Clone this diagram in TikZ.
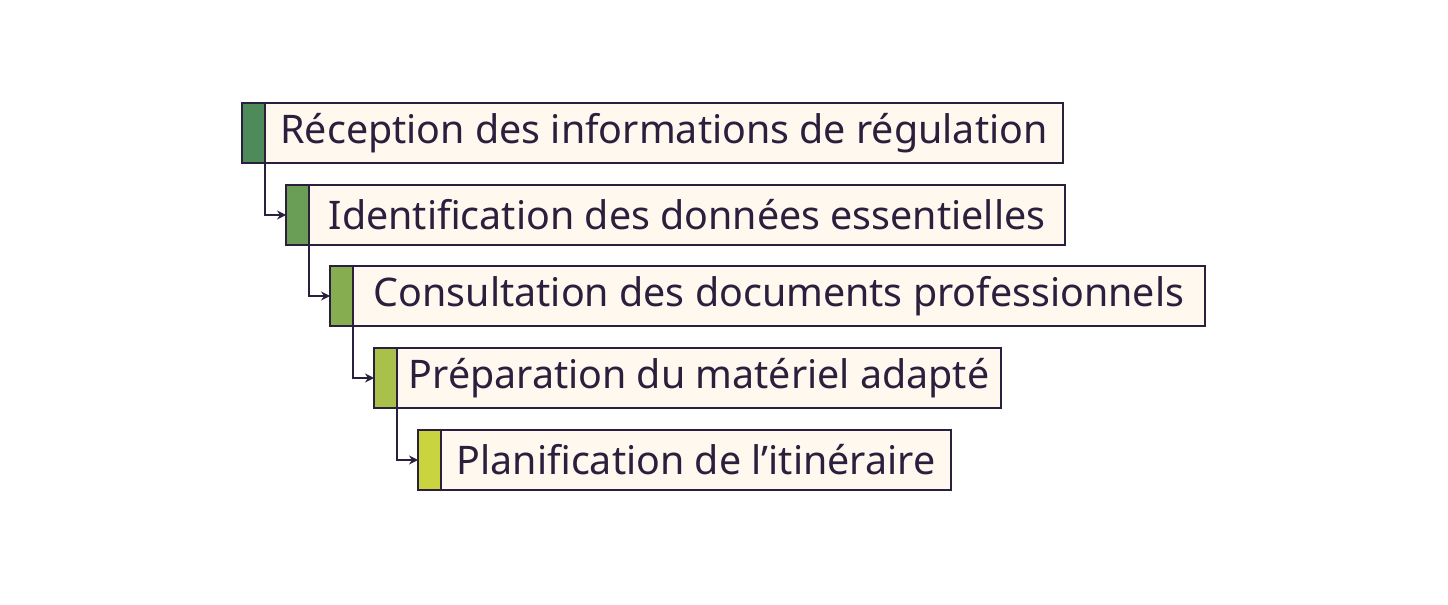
\documentclass[tikz,border=0pt]{standalone}
\usepackage{fontspec}
\setmainfont{Noto Sans}
\usepackage{tikz}
\usetikzlibrary{arrows.meta}

\definecolor{inkdark}{HTML}{2A1F3D}
\definecolor{paper}{HTML}{FFF8EE}
\definecolor{greenA}{HTML}{4F8A5B}
\definecolor{greenB}{HTML}{6A9D56}
\definecolor{greenC}{HTML}{86AE51}
\definecolor{greenD}{HTML}{A9C14A}
\definecolor{greenE}{HTML}{CAD43F}

\tikzset{
  stepbar/.style={draw=inkdark,line width=1pt,anchor=north west,outer sep=0pt,
    minimum width=11.5pt,minimum height=30pt,inner sep=0pt},
  stepbox/.style={draw=inkdark,line width=1pt,fill=paper,anchor=north west,outer sep=0pt,
    minimum height=30pt,inner sep=0pt,text=inkdark,font=\fontsize{19.7}{22}\selectfont},
  link/.style={draw=inkdark,line width=0.75pt,-{Stealth[length=4.5pt,width=4.5pt]}}
}

\begin{document}
\begin{tikzpicture}[x=0.5pt,y=-0.5pt]
  \useasboundingbox (0,0) rectangle (1448,605);
  \node[stepbar,fill=greenA] (b1) at (242,103) {};
  \node[stepbox,minimum width=399pt] (s1) at (b1.north east) {Réception des informations de régulation};
  \node[stepbar,fill=greenB] (b2) at (286,185) {};
  \node[stepbox,minimum width=378pt] (s2) at (b2.north east) {Identification des données essentielles};
  \node[stepbar,fill=greenC] (b3) at (330,266) {};
  \node[stepbox,minimum width=426pt] (s3) at (b3.north east) {Consultation des documents professionnels};
  \node[stepbar,fill=greenD] (b4) at (374,348) {};
  \node[stepbox,minimum width=302pt] (s4) at (b4.north east) {Préparation du matériel adapté};
  \node[stepbar,fill=greenE] (b5) at (418,430) {};
  \node[stepbox,minimum width=255pt] (s5) at (b5.north east) {Planification de l’itinéraire};
  \foreach \a/\b in {1/2,2/3,3/4,4/5}
    \draw[link] (b\a.south east) |- (b\b.west);
\end{tikzpicture}
\end{document}
